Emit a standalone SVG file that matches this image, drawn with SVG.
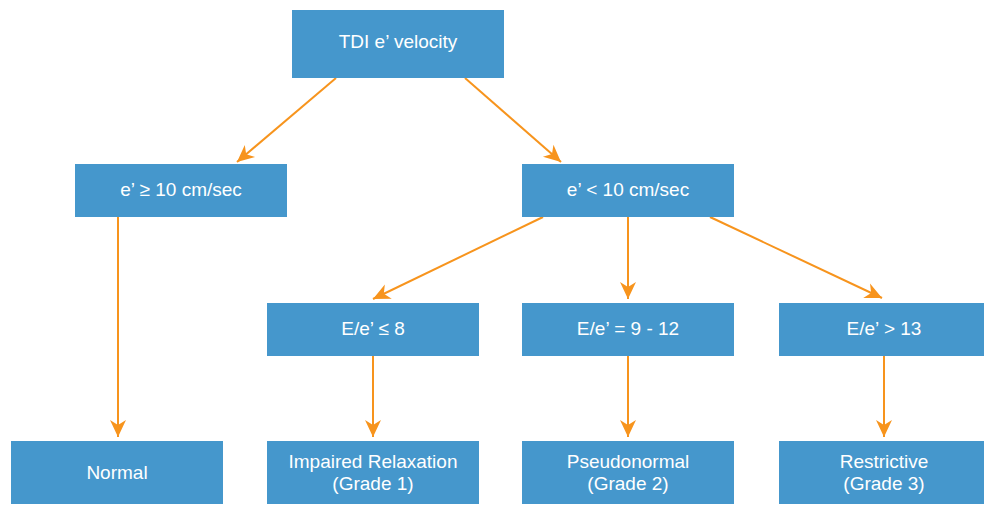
<svg xmlns="http://www.w3.org/2000/svg" width="984" height="505" viewBox="0 0 984 505">
  <defs>
    <style>
      .box { fill: #4597cc; }
      .lbl { fill: #ffffff; font-family: "Liberation Sans", Arial, Helvetica, sans-serif; font-size: 19px; text-anchor: middle; }
      .edge { stroke: #f7941d; stroke-width: 2; fill: none; marker-end: url(#arrow); }
    </style>
    <marker id="arrow" markerUnits="userSpaceOnUse" markerWidth="20" markerHeight="20" viewBox="-18 -9 20 18" refX="0" refY="0" orient="auto">
      <path d="M0,0 L-17,-8 L-12,0 L-17,8 Z" fill="#f7941d"/>
    </marker>
  </defs>

  <rect width="984" height="505" fill="#ffffff"/>

  <!-- connectors -->
  <g id="connectors">
    <path class="edge" d="M336,78 L237,162"/>
    <path class="edge" d="M465,78 L561,162"/>
    <path class="edge" d="M118,217 L118,437"/>
    <path class="edge" d="M543,217 L373,299"/>
    <path class="edge" d="M628,217 L628,299"/>
    <path class="edge" d="M710,217 L882,298"/>
    <path class="edge" d="M373,356 L373,437"/>
    <path class="edge" d="M628,356 L628,437"/>
    <path class="edge" d="M884,356 L884,437"/>
  </g>

  <!-- nodes -->
  <g id="node-tdi">
    <rect class="box" x="292" y="10" width="212" height="68"/>
    <text class="lbl" x="398" y="48">TDI e’ velocity</text>
  </g>
  <g id="node-e-high">
    <rect class="box" x="75" y="164" width="212" height="53"/>
    <text class="lbl" x="181" y="196">e’ ≥ 10 cm/sec</text>
  </g>
  <g id="node-e-low">
    <rect class="box" x="522" y="164" width="212" height="53"/>
    <text class="lbl" x="628" y="196">e’ &lt; 10 cm/sec</text>
  </g>
  <g id="node-ratio-low">
    <rect class="box" x="267" y="303" width="212" height="53"/>
    <text class="lbl" x="373" y="335">E/e’ ≤ 8</text>
  </g>
  <g id="node-ratio-mid">
    <rect class="box" x="522" y="303" width="212" height="53"/>
    <text class="lbl" x="628" y="335">E/e’ = 9 - 12</text>
  </g>
  <g id="node-ratio-high">
    <rect class="box" x="779" y="303" width="212" height="53"/>
    <text class="lbl" x="884" y="335">E/e’ &gt; 13</text>
  </g>
  <g id="node-normal">
    <rect class="box" x="11" y="441" width="212" height="63"/>
    <text class="lbl" x="117" y="479">Normal</text>
  </g>
  <g id="node-grade1">
    <rect class="box" x="267" y="441" width="212" height="63"/>
    <text class="lbl" x="373" y="468">Impaired Relaxation</text>
    <text class="lbl" x="373" y="490">(Grade 1)</text>
  </g>
  <g id="node-grade2">
    <rect class="box" x="522" y="441" width="212" height="63"/>
    <text class="lbl" x="628" y="468">Pseudonormal</text>
    <text class="lbl" x="628" y="490">(Grade 2)</text>
  </g>
  <g id="node-grade3">
    <rect class="box" x="779" y="441" width="212" height="63"/>
    <text class="lbl" x="884" y="468">Restrictive</text>
    <text class="lbl" x="884" y="490">(Grade 3)</text>
  </g>
</svg>
